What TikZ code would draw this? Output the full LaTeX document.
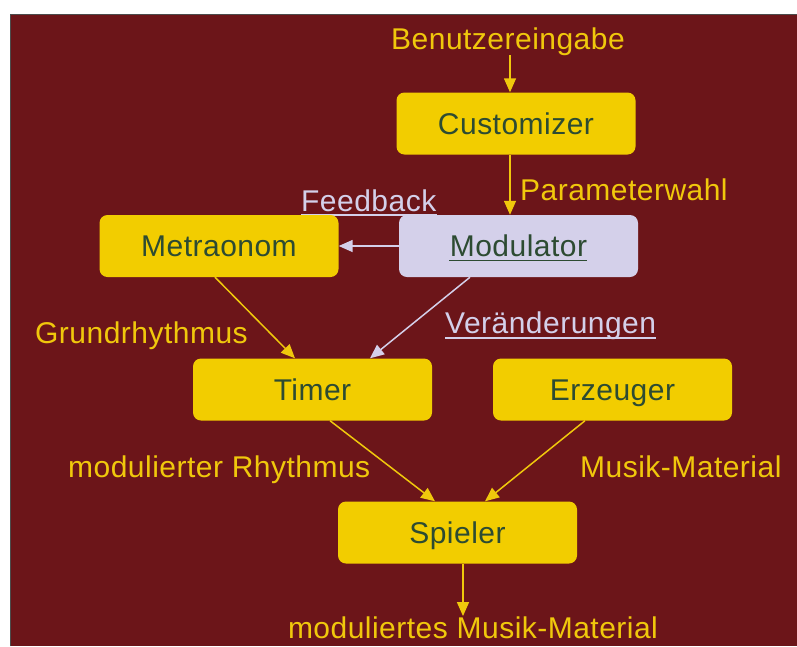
\documentclass[tikz,border=0pt]{standalone}
\usepackage{fontspec}
\setmainfont[LetterSpace=1.6]{Liberation Sans}
\usetikzlibrary{arrows.meta}
\definecolor{bgred}{RGB}{108,21,25}
\definecolor{boxyel}{RGB}{242,205,0}
\definecolor{labyel}{RGB}{240,200,12}
\definecolor{lav}{RGB}{212,208,234}
\definecolor{txtgrn}{RGB}{45,75,50}
\tikzset{
  box/.style={rounded corners=8pt, fill=boxyel, minimum width=239pt, minimum height=62pt,
    inner sep=0pt, text height=21pt, text depth=0pt, text=txtgrn,
    font=\fontsize{30}{36}\selectfont},
  lavbox/.style={box, fill=lav},
  lbl/.style={inner sep=0pt, text=labyel, font=\fontsize{30}{36}\selectfont},
  lavlbl/.style={lbl, text=lav},
  yarrow/.style={draw=labyel, line width=1.5pt, -{Triangle[width=12pt,length=14pt]}},
  larrow/.style={draw=lav, line width=1.5pt, -{Triangle[width=12pt,length=14pt]}},
}
\begin{document}
\begin{tikzpicture}[x=1pt,y=-1pt]
\useasboundingbox (0,0) rectangle (797,646);
\fill[white] (0,0) rectangle (797,646);
\fill[bgred] (10,14) rectangle (797,646);
\draw[black!70, line width=1pt] (10,646) -- (10,14) -- (797,14);

% labels
\node[lbl, anchor=base] (ben) at (508,49) {Benutzereingabe};
\node[lbl, anchor=base west] (par) at (520,200) {Parameterwahl};
\node[lavlbl, anchor=base west] (fb) at (301,211) {Feedback};
\draw[lav, line width=1.2pt] ([yshift=-4pt]fb.base west) -- ([yshift=-4pt]fb.base east);
\node[lbl, anchor=base west] (grund) at (35,343) {Grundrhythmus};
\node[lavlbl, anchor=base west] (ver) at (445,333) {Veränderungen};
\draw[lav, line width=1.2pt] ([yshift=-5pt]ver.base west) -- ([yshift=-5pt]ver.base east);
\node[lbl, anchor=base west] (modr) at (68,477) {modulierter Rhythmus};
\node[lbl, anchor=base west] (mm) at (580,477) {Musik-Material};
\node[lbl, anchor=base] (out) at (473,638) {moduliertes Musik-Material};

% boxes
\node[box] (cust) at (516,123.5) {Customizer};
\node[lavbox] (mod) at (518.5,246) {Modulator};
\draw[txtgrn, line width=1.5pt] ([yshift=-4pt]mod.base west -| 449,0) -- ([yshift=-4pt]mod.base east -| 587,0);
\node[box] (met) at (219,246) {Metraonom};
\node[box] (timer) at (312.5,389.5) {Timer};
\node[box] (erz) at (612.5,389.5) {Erzeuger};
\node[box] (spi) at (457.5,532.5) {Spieler};

% connectors
\draw[yarrow] ([xshift=-6pt]cust.north |- ben.south) -- ([xshift=-6pt]cust.north);
\draw[yarrow] ([xshift=-6pt]cust.south) -- ([xshift=-8.5pt]mod.north);
\draw[larrow] (mod.west) -- (met.east);
\draw[yarrow] ([xshift=-4pt]met.south) -- ([xshift=-17.5pt]timer.north);
\draw[larrow] ([xshift=-48.5pt]mod.south) -- ([xshift=57.5pt]timer.north);
\draw[yarrow] ([xshift=17.5pt]timer.south) -- ([xshift=-22.5pt]spi.north);
\draw[yarrow] ([xshift=-27.5pt]erz.south) -- ([xshift=27.5pt]spi.north);
\draw[yarrow] ([xshift=5.5pt]spi.south) -- ([xshift=5.5pt]spi.south |- out.north);
\end{tikzpicture}
\end{document}
